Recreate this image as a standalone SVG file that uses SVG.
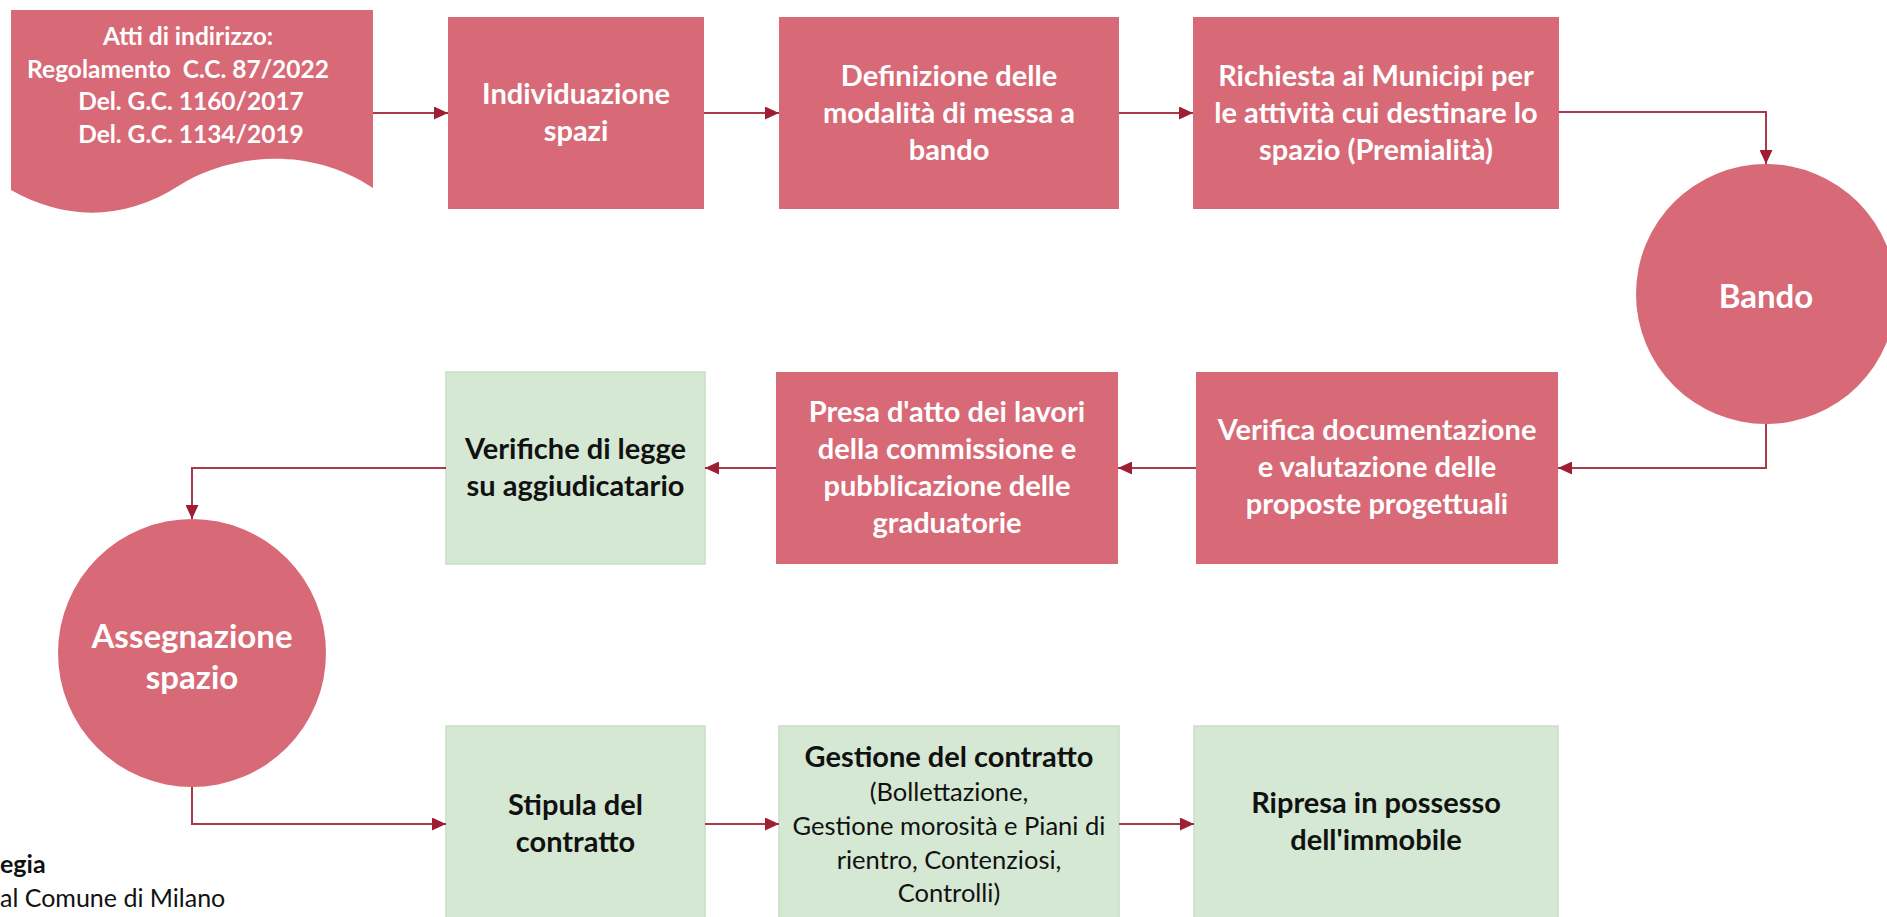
<svg xmlns="http://www.w3.org/2000/svg" width="1887" height="917" viewBox="0 0 1887 917">
<defs>
<marker id="arr" markerUnits="userSpaceOnUse" markerWidth="14" markerHeight="13" refX="14" refY="6.5" orient="auto">
<path d="M0,0 L14,6.5 L0,13 Z" fill="#9E1F33"/>
</marker>
<style>
.pink{fill:#D86A77;}
.green{fill:#D5E8D4;stroke:#C8DEC6;stroke-width:1.5;}
.tw{font-family:Lato,"Open Sans",sans-serif;font-weight:bold;fill:#FFFFFF;text-anchor:middle;}
.tb{font-family:Lato,"Open Sans",sans-serif;font-weight:bold;fill:#111111;text-anchor:middle;}
.tr{font-family:Lato,"Open Sans",sans-serif;font-weight:normal;fill:#111111;text-anchor:middle;}
.f28{font-size:29px;}
.f33{font-size:33px;}
.fd{font-size:24.5px;}
.conn path{fill:none;stroke:#A83A4A;stroke-width:2;marker-end:url(#arr);}
.leg{font-family:Lato,"Open Sans",sans-serif;font-size:25px;fill:#111111;}
</style>
</defs>
<rect width="1887" height="917" fill="#FFFFFF"/>

<g id="atti">
<path class="pink" d="M11,10 H373 V188 C300,140 220,160 180,185 C120,224 60,218 11,190 Z"/>
<text class="tw fd" x="188" y="45">Atti di indirizzo:</text>
<text class="tw fd" x="178" y="78">Regolamento&#160; C.C. 87/2022</text>
<text class="tw fd" x="191" y="110">Del. G.C. 1160/2017</text>
<text class="tw fd" x="191" y="143">Del. G.C. 1134/2019</text>
</g>

<g id="individuazione">
<rect class="pink" x="448" y="17" width="256" height="192"/>
<text class="tw f28" x="576" y="104">Individuazione</text>
<text class="tw f28" x="576" y="141">spazi</text>
</g>

<g id="definizione">
<rect class="pink" x="779" y="17" width="340" height="192"/>
<text class="tw f28" x="949" y="86">Definizione delle</text>
<text class="tw f28" x="949" y="123">modalità di messa a</text>
<text class="tw f28" x="949" y="160">bando</text>
</g>

<g id="richiesta">
<rect class="pink" x="1193" y="17" width="366" height="192"/>
<text class="tw f28" x="1376" y="86">Richiesta ai Municipi per</text>
<text class="tw f28" x="1376" y="123">le attività cui destinare lo</text>
<text class="tw f28" x="1376" y="160">spazio (Premialità)</text>
</g>

<g id="bando">
<circle class="pink" cx="1766" cy="294" r="130"/>
<text class="tw f33" x="1766" y="308">Bando</text>
</g>

<g id="verifica-documentazione">
<rect class="pink" x="1196" y="372" width="362" height="192"/>
<text class="tw f28" x="1377" y="440">Verifica documentazione</text>
<text class="tw f28" x="1377" y="477">e valutazione delle</text>
<text class="tw f28" x="1377" y="514">proposte progettuali</text>
</g>

<g id="presa-atto">
<rect class="pink" x="776" y="372" width="342" height="192"/>
<text class="tw f28" x="947" y="422">Presa d'atto dei lavori</text>
<text class="tw f28" x="947" y="459">della commissione e</text>
<text class="tw f28" x="947" y="496">pubblicazione delle</text>
<text class="tw f28" x="947" y="533">graduatorie</text>
</g>

<g id="verifiche-legge">
<rect class="green" x="446" y="372" width="259" height="192"/>
<text class="tb f28" x="575.5" y="459">Verifiche di legge</text>
<text class="tb f28" x="575.5" y="496">su aggiudicatario</text>
</g>

<g id="assegnazione">
<circle class="pink" cx="192" cy="653" r="134"/>
<text class="tw f33" x="192" y="648">Assegnazione</text>
<text class="tw f33" x="192" y="689">spazio</text>
</g>

<g id="stipula">
<rect class="green" x="446" y="726" width="259" height="220"/>
<text class="tb f28" x="575.5" y="815">Stipula del</text>
<text class="tb f28" x="575.5" y="852">contratto</text>
</g>

<g id="gestione">
<rect class="green" x="779" y="726" width="340" height="220"/>
<text class="tb f28" x="949" y="767">Gestione del contratto</text>
<text class="tr" style="font-size:25.5px" x="949" y="801">(Bollettazione,</text>
<text class="tr" style="font-size:25.5px" x="949" y="835">Gestione morosità e Piani di</text>
<text class="tr" style="font-size:25.5px" x="949" y="869">rientro, Contenziosi,</text>
<text class="tr" style="font-size:25.5px" x="949" y="902">Controlli)</text>
</g>

<g id="ripresa">
<rect class="green" x="1194" y="726" width="364" height="220"/>
<text class="tb f28" x="1376" y="813">Ripresa in possesso</text>
<text class="tb f28" x="1376" y="850">dell'immobile</text>
</g>

<g id="legenda">
<text class="leg" style="font-weight:bold" x="0" y="873">egia</text>
<text class="leg" x="0" y="907">al Comune di Milano</text>
</g>

<g id="connectors" class="conn">
<path d="M373,113 H448"/>
<path d="M704,113 H779"/>
<path d="M1119,113 H1193"/>
<path d="M1559,112 H1766 V164"/>
<path d="M1766,424 V468 H1558"/>
<path d="M1196,468 H1118"/>
<path d="M776,468 H705"/>
<path d="M446,468 H192 V519"/>
<path d="M192,787 V824 H446"/>
<path d="M705,824 H779"/>
<path d="M1119,824 H1194"/>
</g>
</svg>
